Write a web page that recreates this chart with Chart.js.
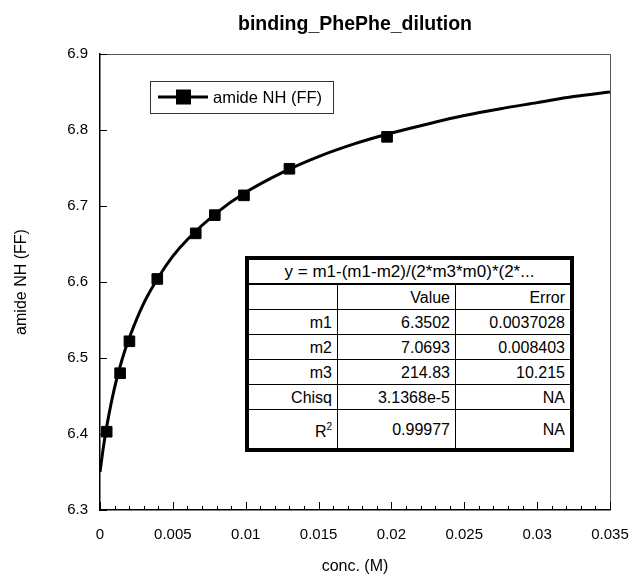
<!DOCTYPE html>
<html>
<head>
<meta charset="utf-8">
<script src="https://cdn.jsdelivr.net/npm/chart.js@4.4.1/dist/chart.umd.min.js"></script>
<style>
  html, body { margin: 0; padding: 0; background: #fff; }
  #wrap { position: relative; width: 632px; height: 585px; }
  #c { position: absolute; left: 0; top: 0; }
  #fit {
    position: absolute; left: 245px; top: 256px; width: 329px;
    border: 4px solid #000; border-spacing: 0; box-sizing: border-box;
    font-family: "Liberation Sans", Arial, sans-serif; font-size: 16px; color: #000;
    background: #fff;
  }
  #fit td { padding: 0 5px 0 0; height: 24px; text-align: right; border-right: 1px solid #000; border-bottom: 1px solid #000; line-height: 17px; }
  #fit td:last-child { border-right: none; }
  #fit tr:last-child td { border-bottom: none; height: 38px; }
  #fit td.hd { text-align: center; border-bottom: 2px solid #000; height: 23px; padding: 0; white-space: nowrap; font-size: 17px; }
  #fit sup { font-size: 10px; vertical-align: 7px; }
</style>
</head>
<body>
<div id="wrap">
  <canvas id="c" width="632" height="585"></canvas>
  <table id="fit"><tbody id="fitBody"></tbody></table>
</div>
<script>
// ---- data ----
const conc  = [0.00046, 0.00138, 0.00202, 0.00393, 0.00657, 0.00788, 0.00988, 0.0130, 0.0197];
const shift = [6.403, 6.480, 6.522, 6.604, 6.664, 6.688, 6.714, 6.749, 6.791];

// fitted curve as drawn in the reference
const fitConc  = [0, 0.00025, 0.0005, 0.001, 0.0015, 0.002, 0.003, 0.004, 0.005, 0.006, 0.008, 0.010, 0.0125, 0.015, 0.0175, 0.020, 0.0225, 0.025, 0.0275, 0.030, 0.0325, 0.035];
const fitShift = [6.350, 6.385, 6.414, 6.461, 6.497, 6.526, 6.572, 6.606, 6.634, 6.656, 6.691, 6.718, 6.744, 6.765, 6.782, 6.796, 6.808, 6.819, 6.828, 6.836, 6.844, 6.850];

const xTickLabels = ['0', '0.005', '0.01', '0.015', '0.02', '0.025', '0.03', '0.035'];
const yTickLabels = ['6.3', '6.4', '6.5', '6.6', '6.7', '6.8', '6.9'];

const seriesLabel = 'amide NH (FF)';
const chartTitle = 'binding_PhePhe_dilution';
const xTitle = 'conc. (M)';
const yTitle = 'amide NH (FF)';

const fitEquation = 'y = m1-(m1-m2)/(2*m3*m0)*(2*...';
const fitParams = ['m1', 'm2', 'm3', 'Chisq', 'R2'];
const fitValues = ['6.3502', '7.0693', '214.83', '3.1368e-5', '0.99977'];
const fitErrors = ['0.0037028', '0.008403', '10.215', 'NA', 'NA'];

// ---- fit table (HTML text) ----
(function buildTable() {
  const tb = document.getElementById('fitBody');
  let html = '<tr><td class="hd" colspan="3">' + fitEquation + '</td></tr>';
  html += '<tr><td style="width:83px"></td><td style="width:112px">Value</td><td>Error</td></tr>';
  fitParams.forEach((p, i) => {
    const name = p === 'R2' ? 'R<sup>2</sup>' : p;
    html += '<tr><td>' + name + '</td><td>' + fitValues[i] + '</td><td>' + fitErrors[i] + '</td></tr>';
  });
  tb.innerHTML = html;
})();

const FONT = '"Liberation Sans", Arial, sans-serif';
Chart.defaults.font.family = FONT;
Chart.defaults.color = '#000';

const plotTitle = {
  id: 'plotTitle',
  afterDraw(chart) {
    const { ctx, chartArea: a } = chart;
    ctx.save();
    ctx.font = 'bold 19.5px ' + FONT;
    ctx.fillStyle = '#000';
    ctx.textAlign = 'center';
    ctx.textBaseline = 'middle';
    ctx.fillText(chartTitle, (a.left + a.right) / 2, 25);
    ctx.restore();
  }
};

const frameTicks = {
  id: 'frameTicks',
  afterDraw(chart) {
    const { ctx, chartArea: a, scales: { x, y } } = chart;
    ctx.save();
    ctx.lineWidth = 1;
    ctx.strokeStyle = '#555';
    ctx.beginPath();
    ctx.moveTo(a.left, a.top + 0.5);
    ctx.lineTo(a.right + 0.5, a.top + 0.5);
    ctx.lineTo(a.right + 0.5, a.bottom);
    ctx.stroke();
    ctx.strokeStyle = '#000';
    ctx.beginPath();
    x.ticks.forEach(t => {
      const px = Math.round(x.getPixelForValue(t.value)) + 0.5;
      ctx.moveTo(px, a.bottom); ctx.lineTo(px, a.bottom - 8);
    });
    const minorStep = (x.max - x.min) / 35;
    for (let k = 1; k < 35; k++) {
      if (k % 5 === 0) continue;
      const px = Math.round(x.getPixelForValue(x.min + k * minorStep)) + 0.5;
      ctx.moveTo(px, a.bottom); ctx.lineTo(px, a.bottom - 4);
    }
    y.ticks.forEach(t => {
      const py = Math.round(y.getPixelForValue(t.value)) + 0.5;
      ctx.moveTo(a.left, py); ctx.lineTo(a.left + 7, py);
    });
    ctx.stroke();
    ctx.restore();
  }
};

const boxLegend = {
  id: 'boxLegend',
  afterDraw(chart) {
    const { ctx, chartArea: a } = chart;
    const L = a.left + 50, T = a.top + 27, W = 183, H = 32;
    ctx.save();
    ctx.fillStyle = '#fff';
    ctx.fillRect(L, T, W, H);
    ctx.strokeStyle = '#333';
    ctx.lineWidth = 1;
    ctx.strokeRect(L + 0.5, T + 0.5, W, H);
    const cy = T + H / 2;
    ctx.strokeStyle = '#000';
    ctx.lineWidth = 3;
    ctx.beginPath(); ctx.moveTo(L + 8, cy); ctx.lineTo(L + 58, cy); ctx.stroke();
    ctx.fillStyle = '#000';
    ctx.fillRect(L + 26, cy - 7.5, 15, 15);
    ctx.font = '16.5px ' + FONT;
    ctx.textBaseline = 'middle';
    ctx.textAlign = 'left';
    ctx.fillText(chart.data.datasets[1].label, L + 63, cy + 1);
    ctx.restore();
  }
};

new Chart(document.getElementById('c'), {
  type: 'scatter',
  data: {
    datasets: [
      {
        label: 'fit',
        data: fitConc.map((v, i) => ({ x: v, y: fitShift[i] })),
        showLine: true,
        borderColor: '#000',
        borderWidth: 3,
        pointRadius: 0,
        cubicInterpolationMode: 'monotone',
        order: 2
      },
      {
        label: seriesLabel,
        data: conc.map((v, i) => ({ x: v, y: shift[i] })),
        showLine: false,
        borderColor: '#000',
        borderWidth: 1,
        backgroundColor: '#000',
        pointStyle: 'rect',
        pointRadius: 7.5,
        pointHoverRadius: 7.5,
        order: 1
      }
    ]
  },
  options: {
    responsive: false,
    animation: false,
    layout: { padding: { left: 0, right: 22, top: 54, bottom: 0 } },
    plugins: {
      legend: { display: false },
      tooltip: { enabled: false },
      title: { display: false }
    },
    scales: {
      x: {
        type: 'linear',
        min: 0, max: 0.035,
        afterFit(s) { s.height = 75; s.paddingLeft = 0; s.paddingRight = 0; },
        ticks: {
          stepSize: 0.005,
          padding: 16,
          font: { size: 15 },
          color: '#000',
          maxRotation: 0,
          callback: (v, i) => xTickLabels[i]
        },
        grid: { drawOnChartArea: false, drawTicks: false },
        border: { display: true, color: '#000', width: 1.5 },
        title: { display: true, text: xTitle, font: { size: 16 }, color: '#000', padding: { top: 0, bottom: 9 } }
      },
      y: {
        type: 'linear',
        min: 6.3, max: 6.9,
        afterFit(s) { s.width = 100; s.paddingTop = 0; s.paddingBottom = 0; },
        ticks: {
          stepSize: 0.1,
          padding: 12,
          font: { size: 15 },
          color: '#000',
          callback: (v, i) => yTickLabels[i]
        },
        grid: { drawOnChartArea: false, drawTicks: false },
        border: { display: true, color: '#000', width: 1.5 },
        title: { display: true, text: yTitle, font: { size: 16 }, color: '#000', padding: { top: 12, bottom: 0 } }
      }
    }
  },
  plugins: [frameTicks, boxLegend, plotTitle]
});
</script>
</body>
</html>
